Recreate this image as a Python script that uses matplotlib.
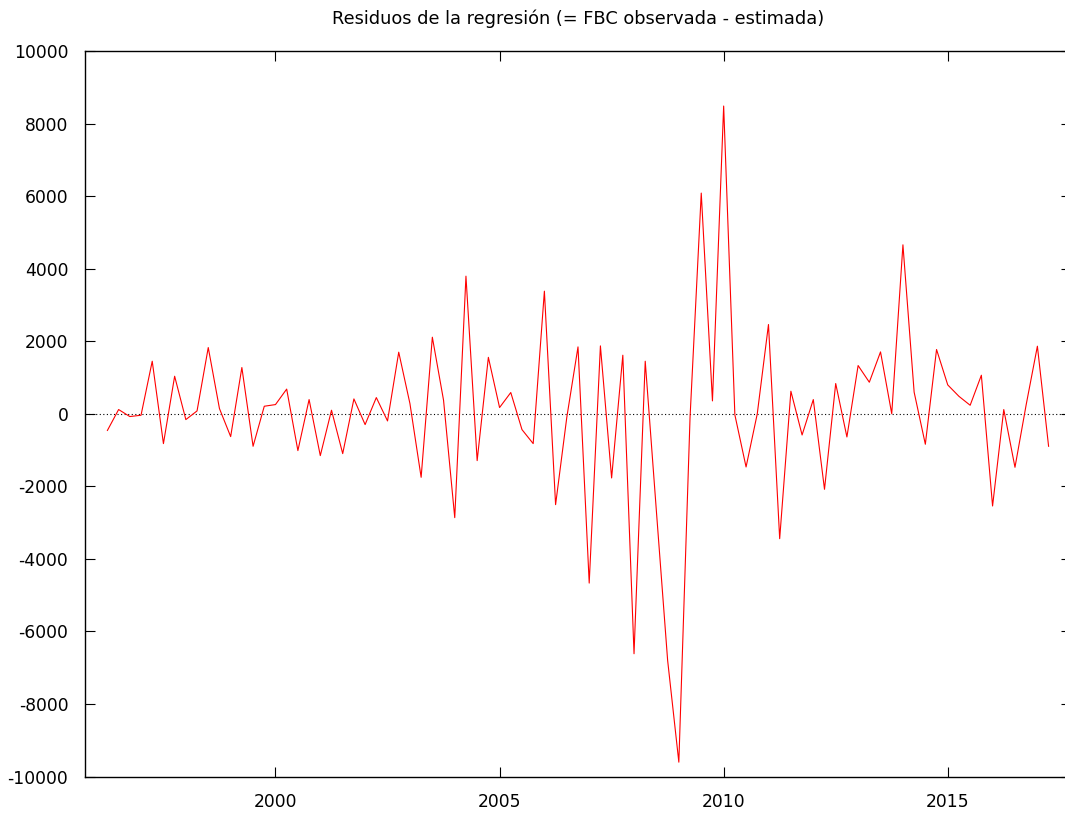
import numpy as np
import matplotlib
matplotlib.use("Agg")
import matplotlib.pyplot as plt
from matplotlib.ticker import FixedLocator

title = "Residuos de la regresión (= FBC observada - estimada)"

# quarterly observations, first one 1996:2
start_year = 1996
start_quarter = 2
residuals = [
    -460, 116, -77,
    -41, 1448, -823, 1034,
    -161, 78, 1825, 143,
    -630, 1274, -897, 207,
    253, 680, -1016, 391,
    -1154, 97, -1099, 409,
    -299, 446, -198, 1697,
    281, -1752, 2110, 372,
    -2864, 3793, -1292, 1555,
    171, 585, -437, -823,
    3379, -2506, -100, 1843,
    -4668, 1871, -1770, 1614,
    -6616, 1448, -2700, -6800,
    -9605, -100, 6083, 354,
    8483, -30, -1467, 0,
    2460, -3444, 621, -585,
    391, -2083, 833, -640,
    1329, 869, 1705, 0,
    4657, 595, -841, 1771,
    795, 480, 234, 1062,
    -2543, 116, -1476, 250,
    1862, -897,
]
x_ticks = [2000, 2005, 2010, 2015]
y_ticks = [-10000, -8000, -6000, -4000, -2000, 0, 2000, 4000, 6000, 8000, 10000]

n = len(residuals)
t = start_year + (start_quarter - 1) / 4 + np.arange(n) / 4.0

plt.rcParams['font.family'] = ['DejaVu Sans']
fig = plt.figure(figsize=(10.65, 8.14), dpi=100)
ax = fig.add_axes([85 / 1065, (814 - 776.5) / 814, (1071 - 85) / 1065, (776.5 - 51) / 814])

ax.axhline(0, color='black', lw=0.8, ls=(0, (1, 2.2)), zorder=1)
ax.plot(t, residuals, color='red', lw=0.8, zorder=2)

ax.set_xlim(1995.75, 2017.75)
ax.set_ylim(-10000, 10000)
ax.xaxis.set_major_locator(FixedLocator(x_ticks))
ax.yaxis.set_major_locator(FixedLocator(y_ticks))
ax.set_xticklabels([str(v) for v in x_ticks])
ax.set_yticklabels([str(v) for v in y_ticks])
ax.tick_params(direction='in', length=7, width=0.8, top=True, right=True,
               labelsize=12.3, colors='black')
ax.tick_params(axis='y', pad=12)
ax.tick_params(axis='x', pad=12)
for s in ax.spines.values():
    s.set_linewidth(1.0)
    s.set_color('black')

fig.text(578 / 1065, (814 - 19) / 814, title, ha='center', va='center', fontsize=12.8)

fig.savefig("out.png", dpi=100)
